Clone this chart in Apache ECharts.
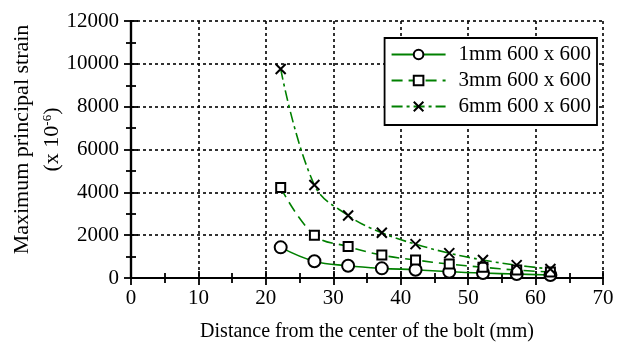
<!DOCTYPE html>
<html>
<head>
<meta charset="utf-8">
<script src="https://cdn.jsdelivr.net/npm/echarts@6/dist/echarts.min.js"></script>
<style>
  html, body { margin: 0; padding: 0; background: #fff; }
  #chart { width: 628px; height: 342px; }
</style>
</head>
<body>
<div id="chart"></div>
<script>
// distance from the bolt centre (mm)
const distances = [22.2, 27.2, 32.2, 37.2, 42.2, 47.2, 52.2, 57.2, 62.2];
// maximum principal strain (x 10^-6)
const strain1mm = [1430, 780, 570, 450, 385, 295, 230, 185, 140];
const strain3mm = [4220, 2000, 1470, 1070, 840, 650, 500, 370, 280];
const strain6mm = [9760, 4340, 2920, 2110, 1580, 1160, 840, 600, 420];
const seriesNames = ["1mm 600 x 600", "3mm 600 x 600", "6mm 600 x 600"];
const xTicks = [0, 10, 20, 30, 40, 50, 60, 70];
const yTicks = [0, 2000, 4000, 6000, 8000, 10000, 12000];

const FONT = "Liberation Serif";
const GREEN = "#008000";
const crossPath = "path://M0,0L10,10M10,0L0,10";

const pairs = (ys) => distances.map((x, i) => [x, ys[i]]);

function makeSeries(name, ys, symbol, size, dash) {
  return {
    name,
    type: "line",
    data: pairs(ys),
    smooth: 0.4,
    symbol,
    symbolSize: size,
    showAllSymbol: true,
    lineStyle: { color: GREEN, width: 1.6, type: dash },
    itemStyle: { color: "#fff", borderColor: "#000", borderWidth: 2 },
    emphasis: { disabled: true },
    z: 3,
  };
}

const frameAxis = {
  axisLine: { show: true, lineStyle: { color: "#000", width: 2.2 } },
  axisTick: { show: true, inside: true, length: 7, lineStyle: { color: "#000", width: 1.8 } },
  minorTick: { show: true, splitNumber: 2, length: 5, lineStyle: { color: "#000", width: 1.8 } },
};

const gridLine = { show: true, lineStyle: { color: "#000", type: [3, 3], width: 1.6 } };

const chart = echarts.init(document.getElementById("chart"), null, { renderer: "canvas" });

chart.setOption({
  animation: false,
  textStyle: { fontFamily: FONT, color: "#000" },
  grid: { left: 131, right: 25, top: 21, bottom: 64, containLabel: false, outerBoundsMode: "none" },
  legend: {
    data: seriesNames,
    orient: "vertical",
    right: 31,
    top: 38,
    itemWidth: 54,
    itemHeight: 12,
    itemGap: 5,
    padding: [6, 6, 8, 6],
    backgroundColor: "#fff",
    borderColor: "#000",
    borderWidth: 1.8,
    textStyle: { fontFamily: FONT, fontSize: 21, color: "#000", padding: [0, 0, 0, 8] },
  },
  xAxis: [
    {
      type: "value",
      min: 0, max: 70, interval: 10,
      name: "Distance from the center of the bolt (mm)",
      nameLocation: "middle",
      nameGap: 44,
      nameMoveOverlap: false,
      nameTextStyle: { fontFamily: FONT, fontSize: 20, color: "#000" },
      axisLabel: { fontFamily: FONT, fontSize: 21, color: "#000", margin: 10 },
      splitLine: gridLine,
      ...frameAxis,
    },
    {
      type: "value", position: "top",
      min: 0, max: 70, interval: 10,
      axisLabel: { show: false },
      splitLine: { show: false },
      ...frameAxis,
    },
  ],
  yAxis: [
    {
      type: "value",
      min: 0, max: 12000, interval: 2000,
      name: "Maximum principal strain\n(x 10{sup|-6})",
      nameLocation: "middle",
      nameGap: 64,
      nameMoveOverlap: false,
      nameRotate: 90,
      nameTextStyle: {
        fontFamily: FONT, fontSize: 22, color: "#000", lineHeight: 30,
        padding: [0, 0, 0, 20],
        rich: { sup: { fontFamily: FONT, fontSize: 13, padding: [0, 0, 9, 0] } },
      },
      axisLabel: {
        fontFamily: FONT, fontSize: 21, color: "#000", margin: 12,
        formatter: (v) => String(v),
      },
      splitLine: gridLine,
      ...frameAxis,
    },
    {
      type: "value", position: "right",
      min: 0, max: 12000, interval: 2000,
      axisLabel: { show: false },
      splitLine: { show: false },
      ...frameAxis,
    },
  ],
  series: [
    makeSeries(seriesNames[0], strain1mm, "circle", 12, "solid"),
    makeSeries(seriesNames[1], strain3mm, "rect", 9, [11, 6]),
    makeSeries(seriesNames[2], strain6mm, crossPath, 10, [11, 4, 3, 4]),
  ],
});
</script>
</body>
</html>
